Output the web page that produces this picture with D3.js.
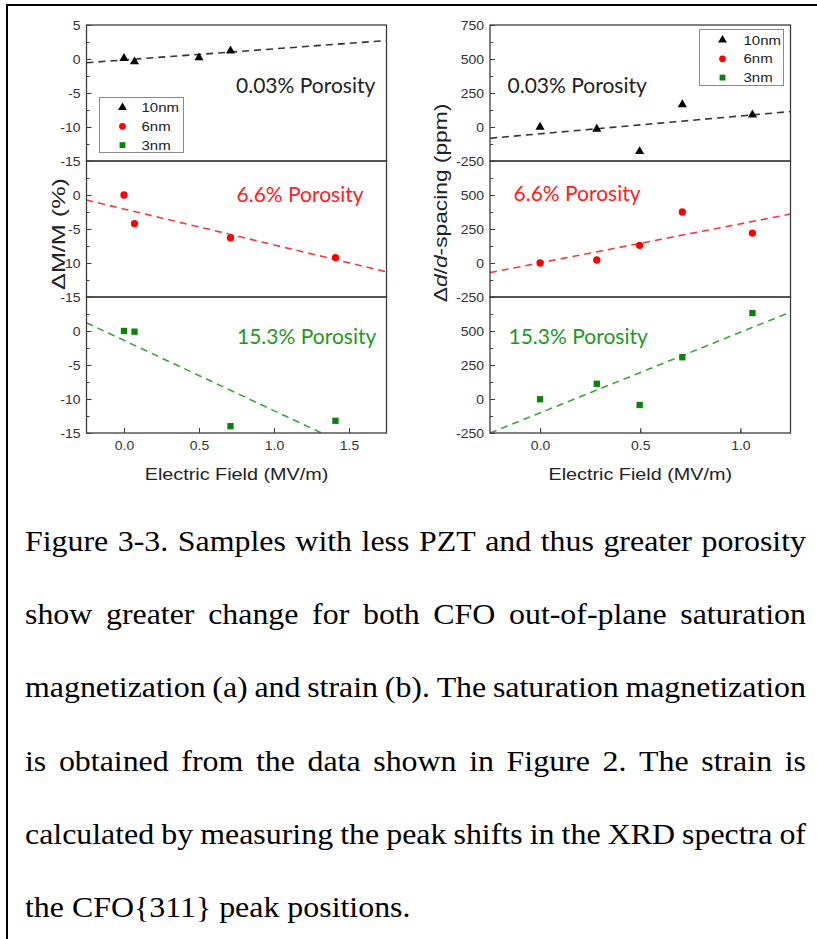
<!DOCTYPE html>
<html>
<head>
<meta charset="utf-8">
<script src="https://cdn.jsdelivr.net/npm/d3@7"></script>
<style>
  body { margin: 0; background: #fff; }
  svg { display: block; }
</style>
</head>
<body>
<svg id="fig" width="817" height="939"></svg>
<script>
// ---------------- data ----------------
const seriesNames = ["10nm", "6nm", "3nm"];
const porosityLabels = ["0.03% Porosity", "6.6% Porosity", "15.3% Porosity"];

// (a) change of saturation magnetization, ΔM/M (%)
const fieldA10 = [0, 0.07, 0.5, 0.71];
const dmA10    = [0.1, -0.4, 0.2, 1.2];
const fieldA6  = [0, 0.07, 0.71, 1.41];
const dmA6     = [0, -4.2, -6.3, -9.2];
const fieldA3  = [0, 0.07, 0.71, 1.41];
const dmA3     = [0, -0.1, -14.0, -13.2];
// linear fits, [intercept, slope]
const fitA = [[-0.14, 1.63], [-2.06, -5.28], [-1.38, -10.34]];

// (b) strain, Δd/d-spacing (ppm)
const fieldB    = [0, 0.283, 0.497, 0.71, 1.06];
const strainB10 = [0, -15, -180, 165, 90];
const strainB6  = [0, 22, 130, 375, 220];
const strainB3  = [-2, 112, -44, 307, 632];
const fitB = [[-50, 131], [1, 287], [-102, 593]];

// axes
const xDomainA = [-0.25, 1.75];
const xDomainB = [-0.25, 1.25];
const xTicksA = [0, 0.5, 1.0, 1.5];
const xTicksB = [0, 0.5, 1.0];
const yTicksA = [5, 0, -5, -10, -15];
const yTicksB = [750, 500, 250, 0, -250];
const xTitle = "Electric Field (MV/m)";

const captionLines = [
  "Figure 3-3. Samples with less PZT and thus greater porosity",
  "show greater change for both CFO out-of-plane saturation",
  "magnetization (a) and strain (b). The saturation magnetization",
  "is obtained from the data shown in Figure 2. The strain is",
  "calculated by measuring the peak shifts in the XRD spectra of",
  "the CFO{311} peak positions."
];

// ---------------- styling ----------------
const SANS = "'Liberation Sans', Arial, sans-serif";
const HUMAN = "Lato, 'Open Sans', sans-serif";
const SERIF = "'Liberation Serif', 'Times New Roman', serif";
const AXIS = "#3c3c3c";
const markerFill = ["#000000", "#ff0000", "#0b820b"];
const fitStroke  = ["#333333", "#f23c3c", "#3aa63a"];
const textFill   = ["#222222", "#ff2020", "#1e991e"];

const svg = d3.select("#fig");

// outer frame around the figure
svg.append("rect")
  .attr("x", 7).attr("y", 5).attr("width", 830).attr("height", 960)
  .attr("fill", "none").attr("stroke", "#000").attr("stroke-width", 2);

// text helper with optional horizontal stretch
function label(parent, str, x, y, o = {}) {
  const t = parent.append("text")
    .attr("transform", `translate(${x},${y}) rotate(${o.rotate || 0}) scale(${o.sx || 1},1)`)
    .attr("text-anchor", o.anchor || "start")
    .attr("font-family", o.family || SANS)
    .attr("font-size", o.size || 13)
    .attr("fill", o.fill || "#222");
  if (o.spacing) t.attr("letter-spacing", o.spacing);
  if (Array.isArray(str)) {
    str.forEach(p => t.append("tspan").text(p.t).attr("font-style", p.italic ? "italic" : null));
  } else t.text(str);
  return t;
}

const panelTops = [25, 161, 297];
const panelH = 136;

function drawChart(cfg) {
  const g = svg.append("g");
  const x = d3.scaleLinear().domain(cfg.xDomain).range([cfg.left, cfg.right]);

  cfg.panels.forEach((p, i) => {
    const top = panelTops[i], bot = top + panelH;
    const y = d3.scaleLinear().domain([cfg.yTicks[0], cfg.yTicks[cfg.yTicks.length - 1]]).range([top, bot]);
    const pg = g.append("g");

    const clipId = `clip-${cfg.id}-${i}`;
    pg.append("clipPath").attr("id", clipId)
      .append("rect").attr("x", cfg.left).attr("y", top)
      .attr("width", cfg.right - cfg.left).attr("height", panelH);

    // minor y ticks
    const step = cfg.yTicks[0] - cfg.yTicks[1];
    const minor = d3.range(cfg.yTicks.length - 1).map(k => cfg.yTicks[k] - step / 2);
    pg.append("g").attr("transform", `translate(${cfg.left},0)`)
      .call(d3.axisLeft(y).tickValues(minor).tickSize(-3).tickFormat(""))
      .call(a => a.select(".domain").remove())
      .call(a => a.selectAll("line").attr("stroke", AXIS));

    // major y ticks (top value hidden below first panel)
    const shown = i === 0 ? cfg.yTicks : cfg.yTicks.slice(1);
    pg.append("g").attr("transform", `translate(${cfg.left},0)`)
      .call(d3.axisLeft(y).tickValues(cfg.yTicks).tickSize(-5).tickPadding(6)
        .tickFormat(d => shown.includes(d) ? String(d) : ""))
      .call(a => a.select(".domain").remove())
      .call(a => a.selectAll("line").attr("stroke", AXIS))
      .call(a => a.selectAll("text").attr("font-family", SANS).attr("font-size", 12.5)
        .attr("fill", "#333").attr("transform", "scale(1.12,1)")
        .attr("x", -6 / 1.12));

    // fit line
    const [b0, b1] = cfg.fits[i];
    const xs = cfg.xDomain;
    pg.append("path")
      .attr("clip-path", `url(#${clipId})`)
      .attr("d", d3.line().x(d => x(d)).y(d => y(b0 + b1 * d))(xs))
      .attr("fill", "none").attr("stroke", fitStroke[i])
      .attr("stroke-width", 1.6).attr("stroke-dasharray", "7,5");

    // data markers
    const sym = [d3.symbolTriangle, d3.symbolCircle, d3.symbolSquare][i];
    const size = [36, 42, 40][i];
    pg.selectAll("path.pt").data(p.x.map((v, k) => [v, p.y[k]])).join("path")
      .attr("class", "pt")
      .attr("transform", d => `translate(${x(d[0])},${y(d[1])})`)
      .attr("d", d3.symbol(sym, size))
      .attr("fill", markerFill[i]);

    // porosity annotation
    label(pg, porosityLabels[i], cfg.textX[i], top + cfg.textDy[i],
      { family: HUMAN, size: 21, fill: textFill[i] });

    // panel frame
    pg.append("rect").attr("x", cfg.left).attr("y", top)
      .attr("width", cfg.right - cfg.left).attr("height", panelH)
      .attr("fill", "none").attr("stroke", AXIS).attr("stroke-width", 1.3);
  });

  // x axis on the bottom panel
  const bottom = panelTops[2] + panelH;
  const xMinor = d3.range(cfg.xDomain[0] + 0.25, cfg.xDomain[1], 0.5);
  g.append("g").attr("transform", `translate(0,${bottom})`)
    .call(d3.axisBottom(x).tickValues(xMinor).tickSize(-3).tickFormat(""))
    .call(a => a.select(".domain").remove())
    .call(a => a.selectAll("line").attr("stroke", AXIS));
  g.append("g").attr("transform", `translate(0,${bottom})`)
    .call(d3.axisBottom(x).tickValues(cfg.xTicks).tickSize(-5).tickPadding(8).tickFormat(d3.format(".1f")))
    .call(a => a.select(".domain").remove())
    .call(a => a.selectAll("line").attr("stroke", AXIS))
    .call(a => a.selectAll("text").attr("font-family", SANS).attr("font-size", 12.5)
      .attr("fill", "#333").attr("transform", "scale(1.12,1)")
      .attr("x", 0));

  // axis titles
  label(g, xTitle, (cfg.left + cfg.right) / 2, 480,
    { anchor: "middle", size: 16.5, sx: 1.2, fill: "#222" });
  label(g, cfg.yTitle, cfg.yTitleX, cfg.yTitleY,
    { anchor: "middle", size: cfg.yTitleSize, sx: cfg.yTitleSx, spacing: cfg.yTitleSpacing,
      rotate: -90, fill: "#222" });

  // legend
  const L = cfg.legend;
  g.append("rect").attr("x", L.x).attr("y", L.y).attr("width", L.w).attr("height", L.h)
    .attr("fill", "#fff").attr("stroke", "#8a8a8a").attr("stroke-width", 1);
  seriesNames.forEach((name, i) => {
    const cy = L.y + L.row0 + i * L.dy;
    const sym = [d3.symbolTriangle, d3.symbolCircle, d3.symbolSquare][i];
    g.append("path").attr("transform", `translate(${L.x + L.mx},${cy})`)
      .attr("d", d3.symbol(sym, [34, 36, 34][i])).attr("fill", markerFill[i]);
    label(g, name, L.x + L.tx, cy + 4.5, { size: 12.5, sx: 1.2, fill: "#222" });
  });
}

drawChart({
  id: "a", left: 86.5, right: 386.5, xDomain: xDomainA, xTicks: xTicksA, yTicks: yTicksA,
  panels: [{ x: fieldA10, y: dmA10 }, { x: fieldA6, y: dmA6 }, { x: fieldA3, y: dmA3 }],
  fits: fitA,
  textX: [236, 236.5, 237], textDy: [68, 41, 47],
  yTitle: "\u0394M/M (%)", yTitleX: 64.5, yTitleY: 234,
  yTitleSize: 18, yTitleSx: 1.4, yTitleSpacing: 0,
  legend: { x: 99.5, y: 97.5, w: 84, h: 55, row0: 10, dy: 18.8, mx: 23, tx: 42 }
});

drawChart({
  id: "b", left: 490, right: 790.5, xDomain: xDomainB, xTicks: xTicksB, yTicks: yTicksB,
  panels: [{ x: fieldB, y: strainB10 }, { x: fieldB, y: strainB6 }, { x: fieldB, y: strainB3 }],
  fits: fitB,
  textX: [507.5, 513.5, 508.5], textDy: [68, 40, 46.5],
  yTitle: [{ t: "\u0394" }, { t: "d", italic: true }, { t: "/" }, { t: "d", italic: true }, { t: "-spacing (ppm)" }],
  yTitleX: 446.5, yTitleY: 203,
  yTitleSize: 17.5, yTitleSx: 1.3, yTitleSpacing: 0,
  legend: { x: 699.5, y: 29.5, w: 84, h: 56, row0: 10.5, dy: 18.8, mx: 23, tx: 44 }
});

// ---------------- caption (justified) ----------------
const capLeft = 25, capRight = 806, capSx = 1.1, capSize = 29;
const capBase0 = 551, capStep = 73.2;
captionLines.forEach((line, li) => {
  const words = line.split(" ");
  const g = svg.append("g")
    .attr("transform", `translate(${capLeft},${capBase0 + li * capStep}) scale(${capSx},1)`);
  const nodes = words.map(w => g.append("text")
    .attr("font-family", SERIF).attr("font-size", capSize).attr("fill", "#000").text(w));
  const widths = nodes.map(n => n.node().getComputedTextLength());
  const total = d3.sum(widths);
  const avail = (capRight - capLeft) / capSx;
  const last = li === captionLines.length - 1;
  const gap = last ? capSize * 0.25 : (avail - total) / (words.length - 1);
  let cx = 0;
  nodes.forEach((n, k) => { n.attr("x", cx); cx += widths[k] + gap; });
});
</script>
</body>
</html>
